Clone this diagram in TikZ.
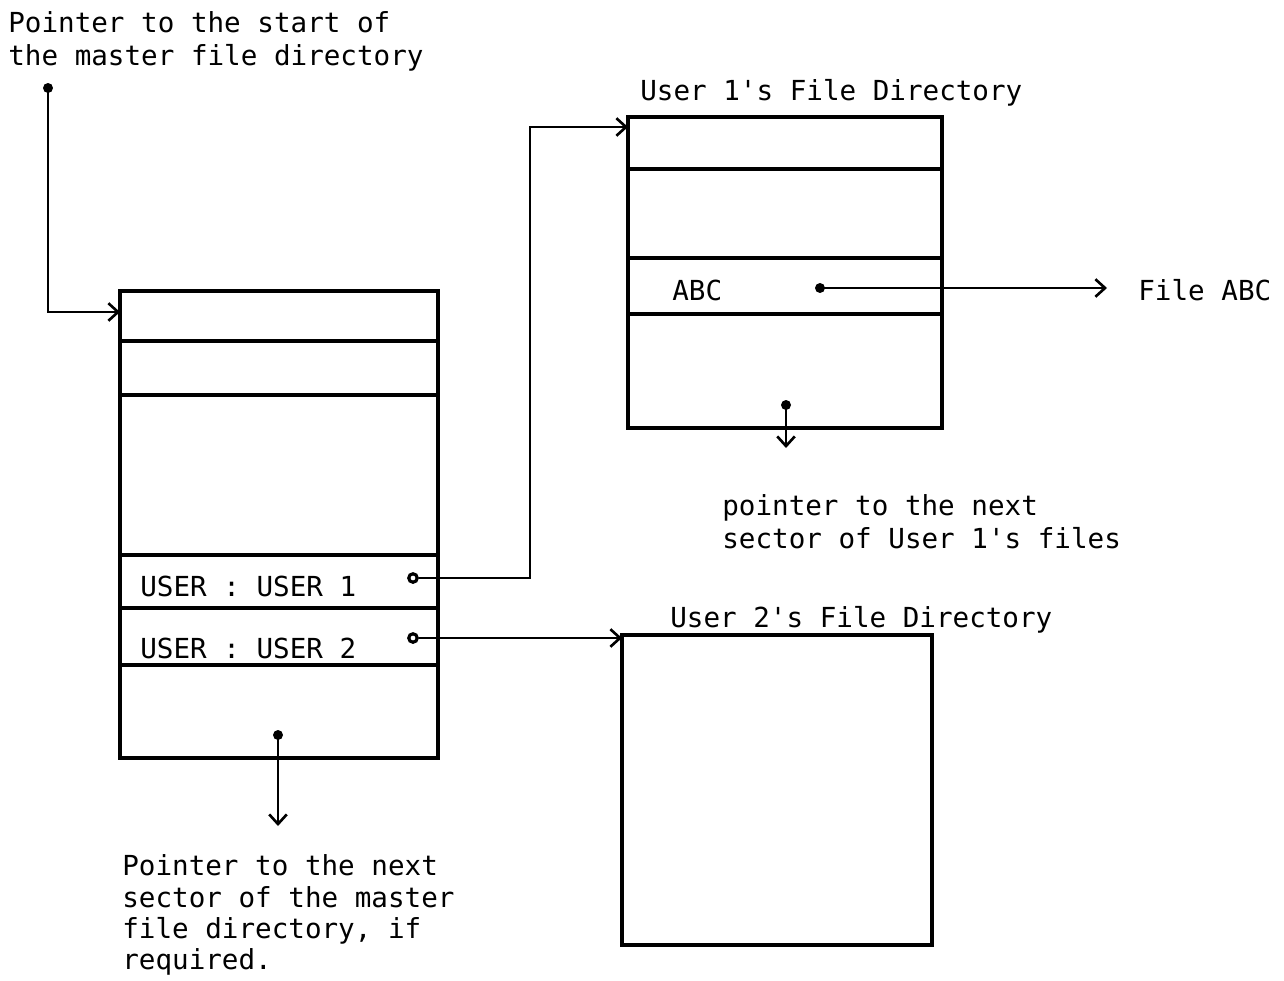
\documentclass[tikz,border=0pt]{standalone}
\usepackage{fontspec}
\setmonofont{DejaVu Sans Mono}
\usetikzlibrary{arrows.meta}
\begin{document}
\begin{tikzpicture}[x=0.02cm,y=-0.02cm,
  box/.style={line width=2.1pt},
  conn/.style={line width=1.6pt},
  arr/.style={conn,-{Straight Barb[length=5.5pt,width=10pt,line width=1.5pt]}},
  txt/.style={font=\ttfamily\fontsize{15.7}{18.2}\selectfont,inner sep=0pt,align=left},
  fdot/.style={circle,fill=black,inner sep=0pt,minimum size=0.2cm},
  odot/.style={circle,draw=black,fill=white,line width=1.8pt,inner sep=0pt,minimum size=0.17cm}]
\useasboundingbox (0,0) rectangle (1284,980);

% Master file directory
\draw[box] (120,291) rectangle (438,758);
\foreach \yy in {341,395,555,608,665} \draw[box] (120,\yy) -- (438,\yy);
\coordinate (mtop) at (120,312);

% User 1 directory
\draw[box] (628,117) rectangle (942,428);
\foreach \yy in {169,258,314} \draw[box] (628,\yy) -- (942,\yy);
\coordinate (u1top) at (628,127);

% User 2 directory
\draw[box] (622,635) rectangle (932,945);
\coordinate (u2top) at (622,638);

% texts
\node[txt,anchor=base west] (t1) at (8,33) {Pointer to the start of};
\node[txt,anchor=base west] (t2) at (8,66) {the master file directory};
\node[txt,anchor=base west] (u1lab) at (640,101) {User 1's File Directory};
\node[txt,anchor=base west] (u2lab) at (670,627) {User 2's File Directory};
\node[txt,anchor=base west] (abc) at (672,300) {ABC};
\node[txt,anchor=base west] (fileabc) at (1138,300) {File ABC};
\node[txt,anchor=base west] (usr1) at (140,596) {USER : USER 1};
\node[txt,anchor=base west] (usr2) at (140,658) {USER : USER 2};
\node[txt,anchor=base west] (p1a) at (722,515) {pointer to the next};
\node[txt,anchor=base west] (p1b) at (722,548) {sector of User 1's files};
\node[txt,anchor=base west] (pm1) at (122,875) {Pointer to the next};
\node[txt,anchor=base west] (pm2) at (122,907) {sector of the master};
\node[txt,anchor=base west] (pm3) at (122,938) {file directory, if};
\node[txt,anchor=base west] (pm4) at (122,969) {required.};

% dots
\node[fdot] (d0) at (48,88) {};
\node[odot] (d1) at (413,578) {};
\node[odot] (d2) at (413,638) {};
\node[fdot] (dabc) at (820,288) {};
\node[fdot] (du1) at (786,405) {};
\node[fdot] (dm) at (278,735) {};
\coordinate (abcend) at (1107,288);
\coordinate (u1next) at (786,448);
\coordinate (mnext) at (278,826);

% connectors
\draw[arr] (d0.center) |- (mtop);
\draw[arr] (d1.east) -- (530,578) |- (u1top);
\draw[arr] (d2.east) -- (u2top);
\draw[arr] (dabc.center) -- (abcend);
\draw[arr] (du1.center) -- (u1next);
\draw[arr] (dm.center) -- (mnext);
\end{tikzpicture}
\end{document}
